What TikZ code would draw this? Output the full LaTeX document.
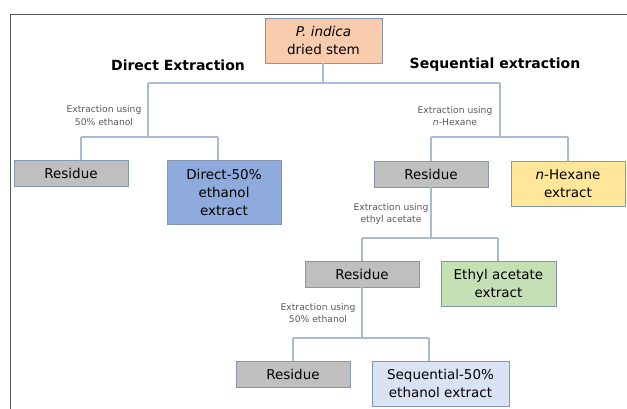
\documentclass[tikz,border=0pt]{standalone}
\usepackage{fontspec}
\setmainfont{DejaVu Sans}
\usepackage{tikz}
\usetikzlibrary{arrows.meta}
\usetikzlibrary{calc}

\begin{document}
\begin{tikzpicture}[x=1pt,y=-1pt]
        \definecolor{gstrokecolor}{HTML}{8496B0}
        \definecolor{glinecolor}{HTML}{A6BCD4}
        \definecolor{gframecolor}{HTML}{595959}
        \definecolor{glabelcolor}{HTML}{595959}
        \tikzset{link/.style={draw=glinecolor,line width=1.2pt}}
        \tikzset{box/.style={rectangle,draw=gstrokecolor,line width=0.9pt,text=black,align=center,inner sep=1pt,minimum width=114pt,minimum height=26pt,font=\fontsize{13.5}{18}\selectfont}}
        \tikzset{steplabel/.style={align=center,text=glabelcolor,inner sep=0pt,font=\fontsize{9.2}{12.5}\selectfont}}
        \tikzset{heading/.style={inner sep=0pt,text=black,font=\fontsize{14}{17}\selectfont\bfseries}}

        \useasboundingbox (0,0) rectangle (627,409);
        \draw [draw=gframecolor,line width=0.9pt] (10,409) -- (10,14) -- (627,14);

        \definecolor{gfillcolor}{HTML}{F8CBAD}
        \node [box, fill=gfillcolor, minimum width=117pt, minimum height=45pt] (stem) at (323.5,40.5) {\textit{P. indica}\\dried stem};
        \definecolor{gfillcolor}{HTML}{BFBFBF}
        \node [box, fill=gfillcolor] (resA) at (71,173) {Residue};
        \definecolor{gfillcolor}{HTML}{8FAADC}
        \node [box, fill=gfillcolor, minimum height=64pt] (direct) at (224,192) {Direct-50\%\\ethanol\\extract};
        \definecolor{gfillcolor}{HTML}{BFBFBF}
        \node [box, fill=gfillcolor] (resB) at (431,174) {Residue};
        \definecolor{gfillcolor}{HTML}{FFE699}
        \node [box, fill=gfillcolor, minimum height=45pt] (hexane) at (568,183.5) {\textit{n}-Hexane\\extract};
        \definecolor{gfillcolor}{HTML}{BFBFBF}
        \node [box, fill=gfillcolor] (resC) at (362,274) {Residue};
        \definecolor{gfillcolor}{HTML}{C5E0B4}
        \node [box, fill=gfillcolor, minimum width=115pt, minimum height=45pt] (ethyl) at (498.5,283.5) {Ethyl acetate\\extract};
        \definecolor{gfillcolor}{HTML}{BFBFBF}
        \node [box, fill=gfillcolor] (resD) at (293,374) {Residue};
        \definecolor{gfillcolor}{HTML}{DAE3F3}
        \node [box, fill=gfillcolor, minimum width=137pt, minimum height=45pt] (sequential) at (440.5,383.5) {Sequential-50\%\\ethanol extract};

        \node [heading] (hdirect) at (178,65) {Direct Extraction};
        \node [heading] (hsequential) at (495,65) {Sequential extraction};

        \node [steplabel] (lab1) at (104,115.5) {Extraction using\\50\% ethanol};
        \node [steplabel] (lab2) at (455,116) {Extraction using\\\textit{n}-Hexane};
        \node [steplabel] (lab3) at (391,214) {Extraction using\\ethyl acetate};
        \node [steplabel] (lab4) at (318,313) {Extraction using\\50\% ethanol};

        \coordinate (j0) at (323,83);
        \coordinate (j1) at (148,83);
        \coordinate (j2) at (500,83);
        \coordinate (k1) at (148,137);
        \coordinate (k1a) at (81,137);
        \coordinate (k1b) at (218,137);
        \coordinate (k2) at (500,137);
        \coordinate (k2a) at (431,137);
        \coordinate (k2b) at (568,137);
        \coordinate (k3) at (431,238);
        \coordinate (k3a) at (362,238);
        \coordinate (k3b) at (498,238);
        \coordinate (k4) at (362,338);
        \coordinate (k4a) at (293,338);
        \coordinate (k4b) at (429,338);

        \draw [link] (stem.south -| j0) to (j0);
        \draw [link] (j1) to (j2);
        \draw [link] (j1) to (k1);
        \draw [link] (k1a) to (k1b);
        \draw [link] (k1a) to (resA.north -| k1a);
        \draw [link] (k1b) to (direct.north -| k1b);
        \draw [link] (j2) to (k2);
        \draw [link] (k2a) to (k2b);
        \draw [link] (k2a) to (resB.north);
        \draw [link] (k2b) to (hexane.north);
        \draw [link] (resB.south) to (k3);
        \draw [link] (k3a) to (k3b);
        \draw [link] (k3a) to (resC.north);
        \draw [link] (k3b) to (ethyl.north -| k3b);
        \draw [link] (resC.south) to (k4);
        \draw [link] (k4a) to (k4b);
        \draw [link] (k4a) to (resD.north -| k4a);
        \draw [link] (k4b) to (sequential.north -| k4b);
    \end{tikzpicture}
\end{document}
